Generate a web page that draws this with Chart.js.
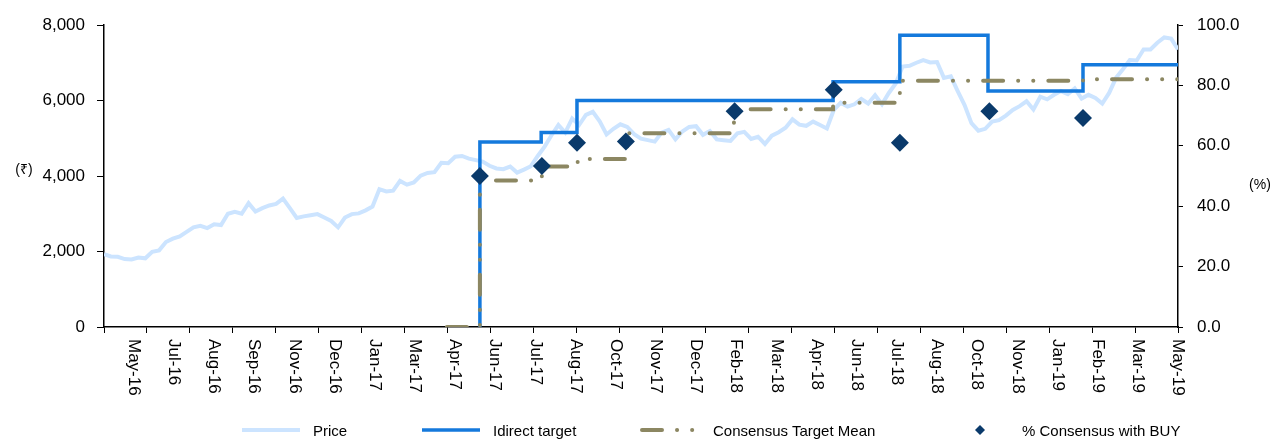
<!DOCTYPE html>
<html>
<head>
<meta charset="utf-8">
<script src="https://cdn.jsdelivr.net/npm/chart.js@4"></script>
<style>
  html, body { margin: 0; padding: 0; background: #fff; overflow: hidden; }
  #wrap { position: relative; width: 1274px; height: 439px; }
  #legend { position: absolute; left: 0; top: 420px; width: 1274px; height: 20px;
            font: 15px "Liberation Sans", Arial, sans-serif; color: #000; }
  .item { position: absolute; top: 0; height: 20px; display: flex; align-items: center; white-space: nowrap; }
  .item canvas { margin-right: 11px; }
</style>
</head>
<body>
<div id="wrap">
  <canvas id="grafico" width="1274" height="439"></canvas>
  <div id="legend"></div>
</div>
<script>
const FONT = '"Liberation Sans", Arial, sans-serif';

// x axis: weeks from mid May-16 (0) to mid May-19 (156)
const monthLabels = ["May-16", "Jul-16", "Aug-16", "Sep-16", "Nov-16", "Dec-16", "Jan-17", "Mar-17", "Apr-17",
  "Jun-17", "Jul-17", "Aug-17", "Oct-17", "Nov-17", "Dec-17", "Feb-18", "Mar-18", "Apr-18", "Jun-18",
  "Jul-18", "Aug-18", "Oct-18", "Nov-18", "Jan-19", "Feb-19", "Mar-19", "May-19"];

// weekly closing price (₹)
const price = [
  1930, 1870, 1860, 1800, 1790, 1840, 1820, 1990, 2030, 2250,
  2340, 2400, 2520, 2640, 2680, 2620, 2720, 2700, 3000, 3050,
  3000, 3280, 3060, 3150, 3220, 3260, 3400, 3150, 2890, 2930,
  2960, 2990, 2900, 2810, 2640, 2900, 2990, 3010, 3090, 3190,
  3650, 3590, 3610, 3870, 3770, 3830, 4010, 4080, 4100, 4350,
  4340, 4510, 4530, 4460, 4420, 4380, 4270, 4200, 4180, 4250,
  4090, 4170, 4260, 4530, 4780, 5080, 5350, 5150, 5520, 5350,
  5620, 5700, 5450, 5100, 5250, 5370, 5300, 5110, 4990, 4950,
  4910, 5150, 5220, 4970, 5180, 5300, 5320, 5090, 5190, 4970,
  4950, 4930, 5130, 5170, 4980, 5040, 4850, 5070, 5160, 5280,
  5500, 5360, 5330, 5440, 5350, 5260, 5750, 5940, 5840, 5900,
  6040, 5920, 6140, 5900, 6200, 6450, 6900, 6920, 7000, 7070,
  7010, 7020, 6600, 6640, 6250, 5880, 5400, 5200, 5250, 5440,
  5480, 5600, 5750, 5850, 5980, 5760, 6100, 6030, 6150, 6250,
  6170, 6320, 6050, 6150, 6070, 5920, 6200, 6600, 6830, 7070,
  7060, 7350, 7350, 7530, 7670, 7640, 7350
];

// Idirect target price changes (week, new target)
const targetWeeks = [54.6, 54.6, 63.5, 68.7, 105.9, 115.6, 128.4, 142.2, 156];
const targetValues = [0, 4900, 5150, 6000, 6500, 7730, 6250, 6950, 6950];

// consensus target mean changes
const consensusWeeks = [49.8, 54.6, 63.6, 68.8, 76.0, 91.5, 105.9, 115.6, 142.2, 156];
const consensusValues = [0, 3880, 4250, 4450, 5130, 5770, 5940, 6520, 6560, 6560];

// % of consensus with BUY
const buyWeeks = [54.6, 63.6, 68.7, 75.8, 91.6, 106.0, 115.6, 128.6, 142.2];
const buyValues = [50.0, 53.3, 61.0, 61.4, 71.4, 78.6, 61.0, 71.4, 69.2];

const pts = (xs, ys) => xs.map((x, i) => ({ x: x, y: ys[i] }));

const axisText = {
  id: 'axisText',
  afterDraw(chart) {
    const { ctx, scales, chartArea } = chart;
    const xs = scales.x;
    ctx.save();
    ctx.fillStyle = '#000';
    ctx.font = '17px ' + FONT;
    ctx.textAlign = 'left';
    ctx.textBaseline = 'middle';
    xs.ticks.forEach((t) => {
      ctx.save();
      ctx.translate(xs.getPixelForValue(t.value), xs.top + 6);
      ctx.rotate(Math.PI / 2);
      ctx.fillText(t.label, 0, 0);
      ctx.restore();
    });
    const mid = (chartArea.top + chartArea.bottom) / 2;
    ctx.font = '14px ' + FONT;
    ctx.textAlign = 'center';
    ctx.fillText('(₹)', scales.y.left + 24, mid - 6);
    ctx.fillText('(%)', scales.y1.right - 14, mid + 9);
    ctx.restore();
  }
};

var ctx = document.getElementById("grafico").getContext("2d");

const chart = new Chart(ctx, {
  type: 'line',
  data: {
    datasets: [
      {
        label: 'Price',
        data: price.map((v, i) => ({ x: i, y: v })),
        borderColor: '#cce4ff',
        borderWidth: 4,
        pointRadius: 0,
        tension: 0,
        order: 4,
        yAxisID: 'y'
      },
      {
        label: 'Idirect target',
        data: pts(targetWeeks, targetValues),
        borderColor: '#1479dc',
        borderWidth: 3.5,
        pointRadius: 0,
        stepped: 'before',
        order: 3,
        yAxisID: 'y'
      },
      {
        label: 'Consensus Target Mean',
        data: pts(consensusWeeks, consensusValues),
        borderColor: '#8c8762',
        borderWidth: 4,
        borderDash: [20, 15, 0.1, 15, 0.1, 15],
        borderCapStyle: 'round',
        pointRadius: 0,
        stepped: 'before',
        order: 2,
        yAxisID: 'y'
      },
      {
        label: '% Consensus with BUY',
        data: pts(buyWeeks, buyValues),
        showLine: false,
        pointStyle: 'rectRot',
        pointRadius: 9,
        pointBorderWidth: 0,
        backgroundColor: '#0a3a6b',
        borderColor: '#0a3a6b',
        order: 1,
        yAxisID: 'y1'
      }
    ]
  },
  options: {
    responsive: false,
    animation: false,
    layout: { padding: { top: 25, left: 0, right: 0, bottom: 0 } },
    plugins: {
      legend: { display: false },
      tooltip: { enabled: false }
    },
    scales: {
      xt: {
        type: 'linear',
        position: 'bottom',
        weight: 0,
        min: 0,
        max: 156,
        afterBuildTicks: (s) => {
          s.ticks = Array.from({ length: 26 }, (_, i) => ({ value: i * 156 / 25 }));
        },
        ticks: { display: false },
        grid: { drawOnChartArea: false, color: '#000', tickLength: 6 },
        border: { color: '#000', width: 1.5 }
      },
      x: {
        type: 'linear',
        position: 'bottom',
        weight: 1,
        min: 0,
        max: 156,
        afterBuildTicks: (s) => {
          const start = 4.3, step = (156 - 4.3) / 26;
          s.ticks = monthLabels.map((_, i) => ({ value: start + i * step }));
        },
        afterFit: (s) => { s.height = 106; },
        ticks: { display: false, callback: (v, i) => monthLabels[i] },
        grid: { display: false },
        border: { display: false }
      },
      y: {
        position: 'left',
        min: 0,
        max: 8000,
        afterFit: (s) => { s.width = 104; },
        ticks: {
          stepSize: 2000,
          padding: 12,
          color: '#000',
          font: { family: FONT, size: 17 },
          callback: (v) => v.toLocaleString('en-US')
        },
        grid: { drawOnChartArea: false, color: '#000', tickLength: 7 },
        border: { color: '#000', width: 1.5 }
      },
      y1: {
        position: 'right',
        min: 0,
        max: 100,
        afterFit: (s) => { s.width = 96; },
        ticks: {
          stepSize: 20,
          padding: 14,
          color: '#000',
          font: { family: FONT, size: 17 },
          callback: (v) => v.toFixed(1)
        },
        grid: { drawOnChartArea: false, color: '#000', tickLength: 5 },
        border: { color: '#000', width: 1.5 }
      }
    }
  },
  plugins: [axisText]
});

// legend built from the chart datasets
const legendLeft = [240, 420, 640, 949];
const legendBox = document.getElementById('legend');
chart.data.datasets.forEach((ds, i) => {
  const item = document.createElement('div');
  item.className = 'item';
  item.style.left = legendLeft[i] + 'px';
  const c = document.createElement('canvas');
  c.width = 62; c.height = 14;
  const g = c.getContext('2d');
  if (ds.showLine === false) {
    g.fillStyle = ds.backgroundColor;
    g.beginPath();
    g.moveTo(31, 2); g.lineTo(36, 7); g.lineTo(31, 12); g.lineTo(26, 7);
    g.closePath();
    g.fill();
  } else {
    g.strokeStyle = ds.borderColor;
    g.lineWidth = ds.borderWidth;
    g.lineCap = ds.borderCapStyle || 'butt';
    g.setLineDash(ds.borderDash || []);
    g.beginPath();
    g.moveTo(2, 7); g.lineTo(60, 7);
    g.stroke();
  }
  const t = document.createElement('span');
  t.textContent = ds.label;
  item.appendChild(c);
  item.appendChild(t);
  legendBox.appendChild(item);
});
</script>
</body>
</html>
